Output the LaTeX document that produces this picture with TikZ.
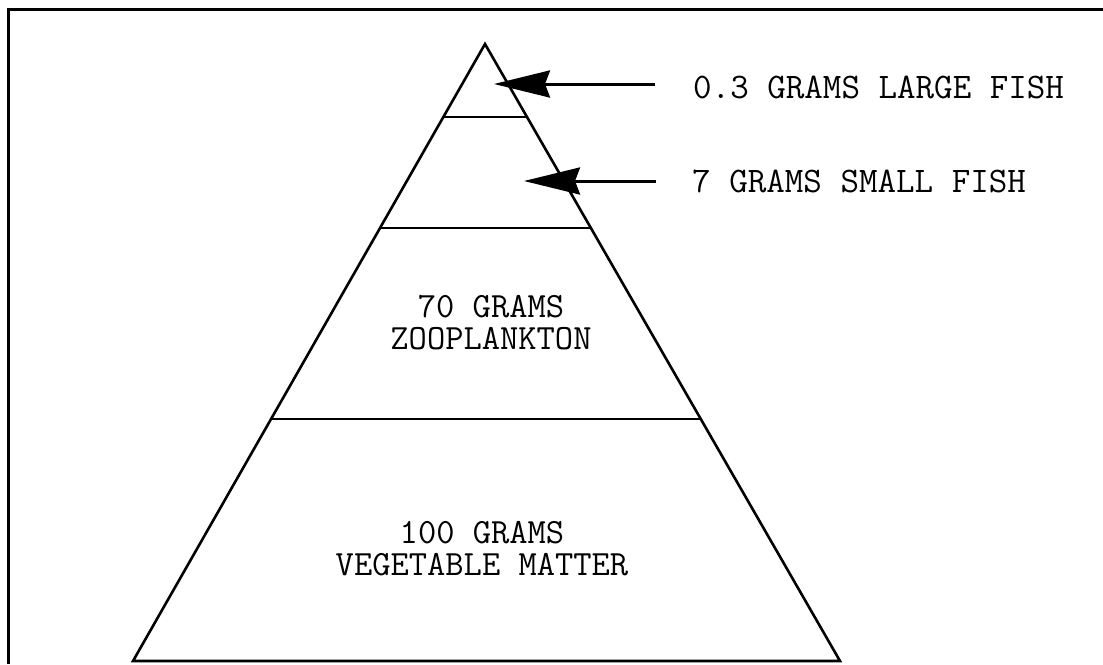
\documentclass[tikz,border=0pt]{standalone}
\usepackage{fontspec}
\usetikzlibrary{arrows.meta,calc}
\begin{document}
\begin{tikzpicture}[x=1pt,y=-1pt,
  frameline/.style={line width=3.2pt},
  pyr/.style={line width=2.6pt, line join=miter},
  band/.style={line width=2.4pt},
  lbl/.style={font=\ttfamily\fontsize{35.5}{32}\selectfont, inner sep=0pt},
  sidelbl/.style={font=\ttfamily\fontsize{36}{36}\selectfont, inner sep=0pt},
  ptr/.style={line width=3pt, -{Stealth[length=56pt, width=27pt, inset=5pt]}}]
\useasboundingbox (0,0) rectangle (1103,664);
% frame (top and left edges)
\draw[frameline] (1103,9.5) -- (8.5,9.5) -- (8.5,664);
% pyramid
\coordinate (apex) at (485,44);
\coordinate (bl) at (133,661);
\coordinate (br) at (840,661);
\draw[pyr] (apex) -- (bl) -- (br) -- cycle;
% band lines
\coordinate (l1) at ($(apex)!0.1183!(bl)$);
\coordinate (r1) at ($(apex)!0.1183!(br)$);
\coordinate (l2) at ($(apex)!0.2982!(bl)$);
\coordinate (r2) at ($(apex)!0.2982!(br)$);
\coordinate (l3) at ($(apex)!0.6078!(bl)$);
\coordinate (r3) at ($(apex)!0.6078!(br)$);
\draw[band] (l1) -- (r1);
\draw[band] (l2) -- (r2);
\draw[band] (l3) -- (r3);
% labels inside
\node[lbl, align=center] (zoo) at (491,323) {70 GRAMS\\ZOOPLANKTON};
\node[lbl, align=center] (veg) at (482,549) {100 GRAMS\\VEGETABLE MATTER};
% side labels
\node[sidelbl, anchor=base west] (large) at (693,98) {0.3 GRAMS LARGE FISH};
\node[sidelbl, anchor=base west] (small) at (692,192) {7 GRAMS SMALL FISH};
% arrows
\coordinate (t1) at (655,84);
\coordinate (h1) at (494,84);
\coordinate (t2) at (656,181);
\coordinate (h2) at (524,181);
\draw[ptr] (t1) -- (h1);
\draw[ptr] (t2) -- (h2);
\end{tikzpicture}
\end{document}
